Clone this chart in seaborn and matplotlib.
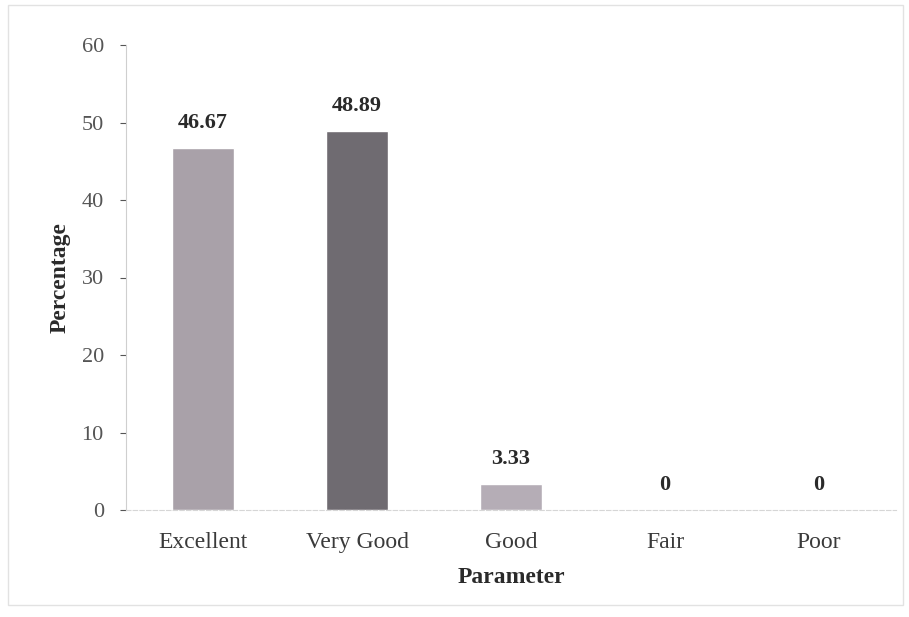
import matplotlib
matplotlib.use("Agg")
import matplotlib.pyplot as plt
import seaborn as sns
import pandas as pd
from matplotlib.patches import Rectangle

categories = ["Excellent", "Very Good", "Good", "Fair", "Poor"]
percentages = [46.67, 48.89, 3.33, 0, 0]
value_labels = ["46.67", "48.89", "3.33", "0", "0"]
bar_colors = ["#a9a1a9", "#6f6b71", "#b5adb6", "#b5adb6", "#b5adb6"]

sns.set_style("white")
plt.rcParams['font.family'] = ['Liberation Serif', 'DejaVu Serif']

df = pd.DataFrame({"Parameter": categories, "Percentage": percentages})

fig = plt.figure(figsize=(9.09, 6.17), dpi=100)
ax = fig.add_axes([126 / 909, 1 - 510 / 617, 770 / 909, 465 / 617])

sns.barplot(data=df, x="Parameter", y="Percentage", hue="Parameter",
            palette=bar_colors, width=0.4, legend=False, ax=ax, saturation=1)

ax.set_ylim(0, 60)
ax.set_xlim(-0.5, 4.5)
ax.set_yticks(range(0, 61, 10))

# value labels on top of bars
for i, (v, lab) in enumerate(zip(percentages, value_labels)):
    ax.text(i, v + 2.0, lab, ha="center", va="bottom", fontsize=16,
            fontweight="bold", color="#2a2a2a")

ax.set_xlabel("Parameter", fontsize=17, fontweight="bold", color="#2a2a2a", labelpad=10)
ax.set_ylabel("Percentage", fontsize=17, fontweight="bold", color="#2a2a2a", labelpad=8)
ax.tick_params(axis="x", labelsize=17, colors="#3a3a3a", length=0, pad=16)
ax.tick_params(axis="y", labelsize=16, colors="#555555", length=4, width=0.8,
               direction="out", left=True, pad=12)

for side in ["top", "right"]:
    ax.spines[side].set_visible(False)
ax.spines["left"].set_color("#cfcfcf")
ax.spines["bottom"].set_color("#d6d6d6")
ax.spines["bottom"].set_linestyle((0, (4, 2)))

# faint scanned page border
fig.patches.append(Rectangle((8 / 909, 12 / 617), 895 / 909, 600 / 617,
                             transform=fig.transFigure, fill=False,
                             edgecolor="#e2e2e2", linewidth=1.0))

fig.savefig("out.png", dpi=100)
